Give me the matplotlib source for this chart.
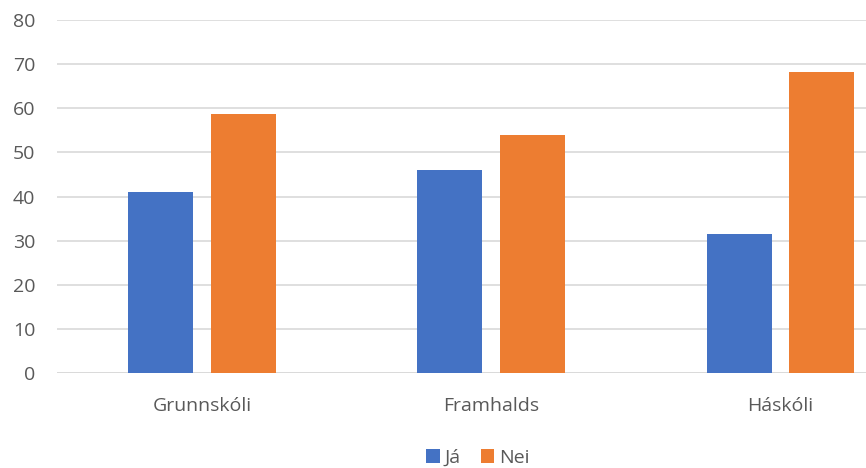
import matplotlib
matplotlib.use("Agg")
import matplotlib.pyplot as plt
import numpy as np

categories = ["Grunnskóli", "Framhalds", "Háskóli"]
series_names = ["Já", "Nei"]
ja_values = [41.0, 46.1, 31.6]
nei_values = [58.8, 54.0, 68.2]
y_ticks = [0, 10, 20, 30, 40, 50, 60, 70, 80]

plt.rcParams['font.family'] = ['Open Sans', 'DejaVu Sans']
text_color = "#595959"

W, H = 866, 468
fig = plt.figure(figsize=(W / 100, H / 100), dpi=100)
left_px, right_px = 57.5, 925.0
bottom_px, top_px = 468 - 373.3, 468 - 20
ax = fig.add_axes([left_px / W, bottom_px / H, (right_px - left_px) / W, (top_px - bottom_px) / H])

x = np.arange(len(categories))
bw = 0.225
off = 0.143
ax.bar(x - off, ja_values, bw, color="#4472C4", label=series_names[0], zorder=3)
ax.bar(x + off, nei_values, bw, color="#ED7D31", label=series_names[1], zorder=3)

ax.set_xlim(-0.5, 2.5)
ax.set_ylim(0, 80)
ax.set_yticks(y_ticks)
ax.set_xticks(x)
ax.set_xticklabels(categories)
for s in ax.spines.values():
    s.set_visible(False)
ax.yaxis.grid(True, color="#d9d9d9", linewidth=1.2, zorder=0)
ax.set_axisbelow(True)
ax.tick_params(axis='both', length=0, colors=text_color, labelsize=14)
ax.tick_params(axis='y', pad=16)
ax.tick_params(axis='x', pad=17)
ax.axhline(0, color="#d9d9d9", linewidth=1.2, zorder=2)

leg = fig.legend(loc='center', bbox_to_anchor=(478 / W, 1 - 458 / H), ncol=2, frameon=False,
                 fontsize=14, handlelength=0.7, handleheight=0.7, handletextpad=0.25,
                 columnspacing=1.0, labelcolor=text_color)

fig.savefig("out.png", dpi=100)
